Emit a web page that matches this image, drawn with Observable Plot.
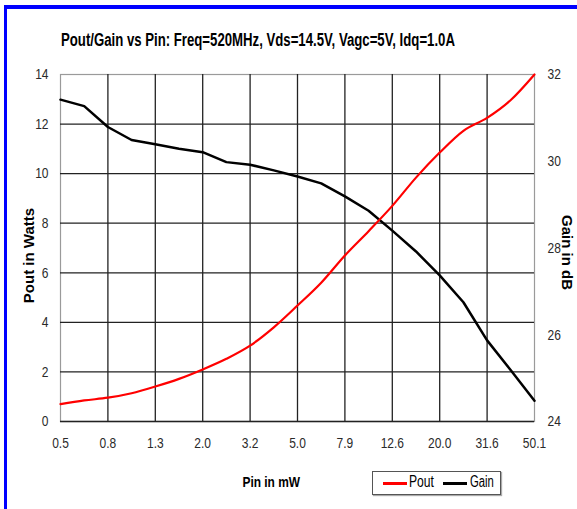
<!DOCTYPE html>
<html><head><meta charset="utf-8">
<script src="https://cdn.jsdelivr.net/npm/d3@7"></script>
<script src="https://cdn.jsdelivr.net/npm/@observablehq/plot@0.6"></script>
<style>
body{margin:0;background:#fff;}
#wrap{position:relative;width:577px;height:509px;overflow:hidden;background:#fff;font-family:"Liberation Sans",Arial,sans-serif;color:#000;}
#wrap svg{position:absolute;left:0;top:0;}
.bt{position:absolute;left:4px;top:5px;right:0;height:4px;background:#0000ff;}
.bl{position:absolute;left:4px;top:5px;width:3px;bottom:0;background:#0000ff;}
.lbl{position:absolute;font-weight:bold;white-space:nowrap;left:0;top:0;}
#title{font-size:18px;}
#xlab{font-size:15px;}
#ylab{font-size:15px;}
#y2lab{font-size:15px;}
#legend{position:absolute;left:372px;top:471px;width:127px;height:22px;border:1px solid #555;box-shadow:1px 1px 1px #aaa;font-size:16px;box-sizing:content-box;}
#legend .sw{position:absolute;top:10px;width:24px;height:3px;}
#legend .tx{position:absolute;top:1px;white-space:nowrap;transform-origin:0 0;}
</style></head><body><div id="wrap"></div>
<script>
// Pin in dBm (data points at 1 dB steps); tick labels give Pin in mW
const pinDbm = [-3, -2, -1, 0, 1, 2, 3, 4, 5, 6, 7, 8, 9, 10, 11, 12, 13, 14, 15, 16, 17];
// Pout in Watts
const poutW = [0.7, 0.85, 0.96, 1.14, 1.41, 1.72, 2.1, 2.53, 3.06, 3.8, 4.68, 5.6, 6.7, 7.68, 8.7, 9.84, 10.85, 11.73, 12.25, 12.97, 14.0];
// Gain in dB
const gainDb = [31.42, 31.27, 30.79, 30.49, 30.39, 30.29, 30.21, 29.98, 29.92, 29.79, 29.65, 29.49, 29.19, 28.86, 28.4, 27.92, 27.37, 26.75, 25.87, 25.18, 24.48];

const xTickValues = [-3, -1, 1, 3, 5, 7, 9, 11, 13, 15, 17];
const xTickLabels = ["0.5", "0.8", "1.3", "2.0", "3.2", "5.0", "7.9", "12.6", "20.0", "31.6", "50.1"];
const poutTicks = [0, 2, 4, 6, 8, 10, 12, 14];
const gainTicks = [24, 26, 28, 30, 32];
const seriesNames = ["Pout", "Gain"];
const seriesColors = ["#ff0000", "#000000"];

const titleText = "Pout/Gain vs Pin: Freq=520MHz, Vds=14.5V, Vagc=5V, Idq=1.0A";
const xTitle = "Pin in mW";
const yTitle = "Pout in Watts";
const y2Title = "Gain in dB";

// map gain (24..32 dB) onto the Pout scale (0..14 W)
const gainDomain = [24, 32], poutDomain = [0, 14];
const toLeft = g => poutDomain[0] + (g - gainDomain[0]) * (poutDomain[1] - poutDomain[0]) / (gainDomain[1] - gainDomain[0]);

const rows = pinDbm.map((p, i) => ({pin: p, pout: poutW[i], gain: gainDb[i]}));
const xLabelMap = new Map(xTickValues.map((v, i) => [v, xTickLabels[i]]));
const gainPos = gainTicks.map(toLeft);
const gainLabelMap = new Map(gainPos.map((v, i) => [v, String(gainTicks[i])]));

const chart = Plot.plot({
  width: 577, height: 509,
  marginLeft: 60, marginRight: 43, marginTop: 74, marginBottom: 88,
  style: {fontFamily: '"Liberation Sans",Arial,sans-serif', fontSize: "15px", color: "#2a2a2a", background: "transparent", overflow: "visible"},
  x: {domain: [xTickValues[0], xTickValues[xTickValues.length - 1]]},
  y: {domain: poutDomain},
  marks: [
    Plot.frame({stroke: "#9a9a9a", strokeWidth: 1.2}),
    Plot.gridX(xTickValues.slice(1, -1), {stroke: "#222", strokeOpacity: 1, strokeWidth: 1.3}),
    Plot.gridY(poutTicks.slice(0, -1), {stroke: "#222", strokeOpacity: 1, strokeWidth: 1.3}),
    Plot.axisY(poutTicks, {anchor: "left", tickSize: 0, tickPadding: 12, label: null}),
    Plot.axisY(gainPos, {anchor: "right", tickSize: 0, tickPadding: 13, tickFormat: d => gainLabelMap.get(d), label: null}),
    Plot.axisX(xTickValues, {anchor: "bottom", tickSize: 0, tickPadding: 16, tickFormat: d => xLabelMap.get(d), label: null}),
    Plot.line(rows, {x: "pin", y: d => toLeft(d.gain), stroke: seriesColors[1], strokeWidth: 2.5}),
    Plot.line(rows, {x: "pin", y: "pout", stroke: seriesColors[0], strokeWidth: 2.2, curve: "monotone-x"})
  ]
});

const wrap = document.getElementById("wrap");
wrap.appendChild(chart);

// narrow look for the tick labels: squeeze glyphs to 80% of their natural width
chart.querySelectorAll("text").forEach(t => {
  const len = t.getComputedTextLength();
  if (len > 0) {
    t.setAttribute("textLength", (len * 0.8).toFixed(2));
    t.setAttribute("lengthAdjust", "spacingAndGlyphs");
  }
});

wrap.insertAdjacentHTML("beforeend", `
  <div class="bt"></div><div class="bl"></div>
  <div class="lbl" id="title">${titleText}</div>
  <div class="lbl" id="xlab">${xTitle}</div>
  <div class="lbl" id="ylab">${yTitle}</div>
  <div class="lbl" id="y2lab">${y2Title}</div>
  <div id="legend">
    <span class="sw" style="left:10px;background:${seriesColors[0]}"></span><span class="tx" id="lg0" style="left:36px">${seriesNames[0]}</span>
    <span class="sw" style="left:70px;background:${seriesColors[1]}"></span><span class="tx" id="lg1" style="left:97px">${seriesNames[1]}</span>
  </div>`);

// place a label centred at (cx, cy), squeezed horizontally to width w (narrow font look), rotated by rot
function place(id, cx, cy, w, rot) {
  const el = document.getElementById(id);
  const nw = el.offsetWidth, nh = el.offsetHeight;
  const sx = Math.min(1, w / nw);
  el.style.left = (cx - nw / 2) + "px";
  el.style.top = (cy - nh / 2) + "px";
  el.style.transformOrigin = "50% 50%";
  el.style.transform = `rotate(${rot}deg) scaleX(${sx})`;
}
place("title", 258, 40, 394, 0);
place("xlab", 271, 481, 58, 0);
place("ylab", 28, 255, 115, -90);
place("y2lab", 567, 252, 84, 90);
for (const [id, w] of [["lg0", 25], ["lg1", 24]]) {
  const el = document.getElementById(id);
  el.style.transform = `scaleX(${Math.min(1, w / el.offsetWidth)})`;
}
</script>
</body></html>
